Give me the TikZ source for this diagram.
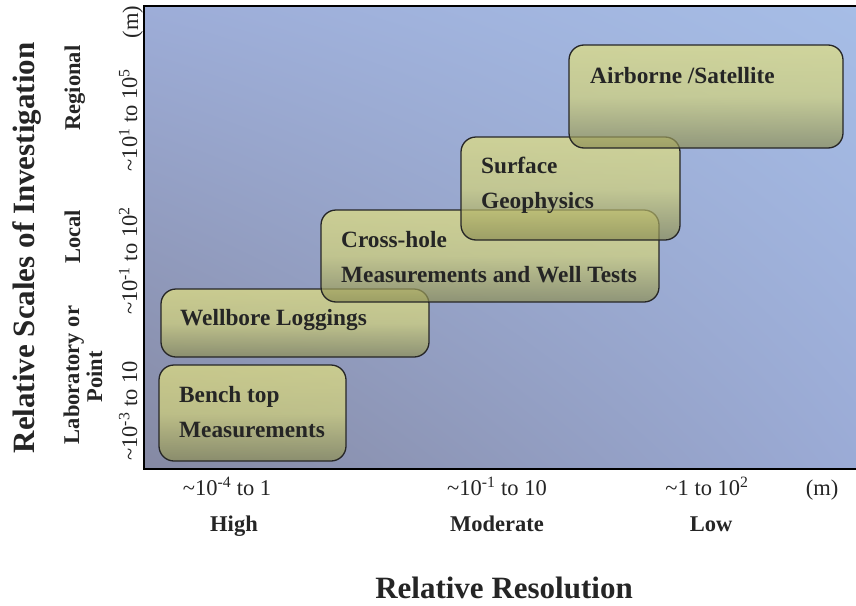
\documentclass[tikz,border=0pt]{standalone}
\usepackage{fontspec}
\usetikzlibrary{shadings}
\setmainfont{Liberation Serif}
\definecolor{bgUL}{HTML}{9DADD8}
\definecolor{bgUR}{HTML}{A6BDE6}
\definecolor{bgLL}{HTML}{8589A3}
\definecolor{bgLR}{HTML}{9BABD6}
\definecolor{boxT}{HTML}{E2E07E}
\definecolor{boxM}{HTML}{D3D379}
\definecolor{boxB}{HTML}{8B8D54}
\definecolor{txt}{HTML}{252525}
\begin{document}
\begin{tikzpicture}[x=1pt,y=-1pt,
  boxshape/.style={draw=black!85, line width=1.3pt, rounded corners=15pt,
    top color=boxT, bottom color=boxB, middle color=boxM, fill opacity=0.7},
  boxtext/.style={anchor=base west, inner sep=0pt,
    font=\fontsize{23.3}{27}\selectfont\bfseries, text=txt},
  vlab/.style={rotate=90, anchor=base, inner sep=0pt,
    font=\fontsize{22.5}{27}\selectfont\bfseries, text=txt},
  vval/.style={rotate=90, anchor=base, inner sep=0pt,
    font=\fontsize{22.5}{27}\selectfont, text=txt},
  hval/.style={anchor=base, inner sep=0pt,
    font=\fontsize{22.5}{27}\selectfont, text=txt},
  hlab/.style={anchor=base, inner sep=0pt,
    font=\fontsize{22.5}{27}\selectfont\bfseries, text=txt},
  axtitle/.style={anchor=base, inner sep=0pt,
    font=\fontsize{31}{36}\selectfont\bfseries, text=txt}]
\useasboundingbox (0,0) rectangle (856,605);
\fill[white] (0,0) rectangle (856,605);
% plot background
\shade[upper left=bgUL, upper right=bgUR, lower left=bgLL, lower right=bgLR]
  (144,6) rectangle (858,469);
\draw[line width=1.6pt] (144,6) rectangle (858,469);
% boxes
\path[boxshape] (159,365) rectangle (346,461);
\path[boxshape] (161,289) rectangle (429,357);
\path[boxshape] (321,210) rectangle (659,302);
\path[boxshape] (461,137) rectangle (680,240);
\path[boxshape] (569,45) rectangle (843,148);
% box texts
\node[boxtext] (bench1) at (179,402) {Bench top};
\node[boxtext] (bench2) at (179,437) {Measurements};
\node[boxtext] (well) at (180,325) {Wellbore Loggings};
\node[boxtext] (cross1) at (341,247) {Cross-hole};
\node[boxtext] (cross2) at (341,282) {Measurements and Well Tests};
\node[boxtext] (surf1) at (481,173) {Surface};
\node[boxtext] (surf2) at (481,208) {Geophysics};
\node[boxtext] (air) at (590,83) {Airborne /Satellite};
% vertical axis labels
\node[axtitle, rotate=90] (ytitle) at (34,248) {Relative Scales of Investigation};
\node[vlab] (regional) at (80,88) {Regional};
\node[vlab] (local) at (80,237) {Local};
\node[vlab] (lab) at (79,375) {Laboratory or};
\node[vlab] (point) at (102,377) {Point};
\node[vval] (vm) at (138,22) {(m)};
\node[vval] (v3) at (137,120) {\textasciitilde10\textsuperscript{1} to 10\textsuperscript{5}};
\node[vval] (v2) at (137,261) {\textasciitilde10\textsuperscript{-1} to 10\textsuperscript{2}};
\node[vval] (v1) at (137,411) {\textasciitilde10\textsuperscript{-3} to 10};
% horizontal axis labels
\node[hval] (h1) at (227,495) {\textasciitilde10\textsuperscript{-4} to 1};
\node[hval] (h2) at (497,495) {\textasciitilde10\textsuperscript{-1} to 10};
\node[hval] (h3) at (707,495) {\textasciitilde1 to 10\textsuperscript{2}};
\node[hval] (hm) at (822,495) {(m)};
\node[hlab] (high) at (234,531) {High};
\node[hlab] (mod) at (497,531) {Moderate};
\node[hlab] (low) at (711,531) {Low};
\node[axtitle] (xtitle) at (504,598) {Relative Resolution};
\end{tikzpicture}
\end{document}
